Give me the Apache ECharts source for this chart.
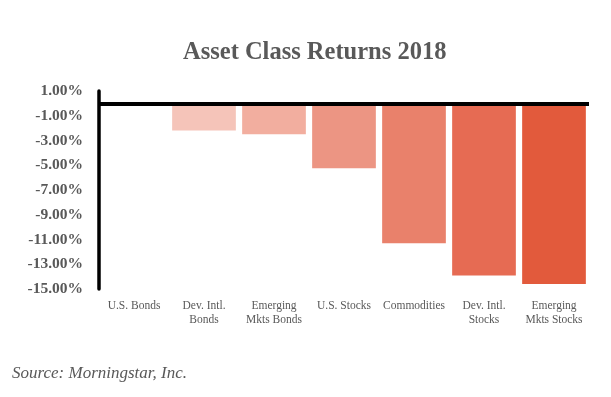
<!DOCTYPE html>
<html>
<head>
<meta charset="utf-8">
<script src="https://cdn.jsdelivr.net/npm/echarts@6/dist/echarts.min.js"></script>
<style>
  html, body { margin: 0; padding: 0; background: #fff; }
  #chart { width: 611px; height: 397px; }
</style>
</head>
<body>
<div id="chart"></div>
<script>
// 2018 returns by asset class (%)
const categories = ['U.S. Bonds', 'Dev. Intl.\nBonds', 'Emerging\nMkts Bonds', 'U.S. Stocks',
  'Commodities', 'Dev. Intl.\nStocks', 'Emerging\nMkts Stocks'];
const returns = [0.01, -2.2, -2.5, -5.25, -11.3, -13.9, -14.6];
const barColors = ['#f8d6cd', '#f5c4b9', '#f2ae9f', '#ec9583', '#e9816b', '#e66b53', '#e25a3c'];
const yTicks = [1, -1, -3, -5, -7, -9, -11, -13, -15];

const chart = echarts.init(document.getElementById('chart'));
const serif = '"Liberation Serif", "DejaVu Serif", serif';

const option = {
  animation: false,
  title: {
    text: 'Asset Class Returns 2018',
    left: 178,
    top: 35,
    textStyle: { fontFamily: serif, fontSize: 24.5, fontWeight: 'bold', color: '#595959' }
  },
  grid: { left: 99, right: 22, top: 91, bottom: 108, containLabel: false },
  xAxis: {
    type: 'category',
    data: categories,
    axisLine: { show: false, onZero: false },
    axisTick: { show: false },
    axisLabel: {
      interval: 0,
      margin: 10,
      fontFamily: serif,
      fontSize: 11.5,
      lineHeight: 14,
      color: '#595959'
    }
  },
  yAxis: {
    type: 'value',
    min: -15,
    max: 1,
    splitLine: { show: false },
    axisTick: { show: false },
    axisLine: { show: true, lineStyle: { color: '#000', width: 3.5 } },
    axisLabel: {
      customValues: yTicks,
      margin: 16,
      fontFamily: serif,
      fontSize: 15.5,
      fontWeight: 'bold',
      color: '#595959',
      formatter: v => v.toFixed(2) + '%'
    }
  },
  series: [{
    type: 'bar',
    barWidth: '91%',
    data: returns.map((v, i) => ({ value: v, itemStyle: { color: barColors[i] } })),
    markLine: {
      silent: true,
      symbol: 'none',
      label: { show: false },
      lineStyle: { color: '#000', width: 4, type: 'solid' },
      data: [{ yAxis: 0 }]
    }
  }],
  graphic: [{
    type: 'text',
    left: 12,
    top: 365,
    style: {
      text: 'Source: Morningstar, Inc.',
      font: 'italic 17px ' + serif,
      fill: '#595959'
    }
  }]
};

chart.setOption(option);
</script>
</body>
</html>
